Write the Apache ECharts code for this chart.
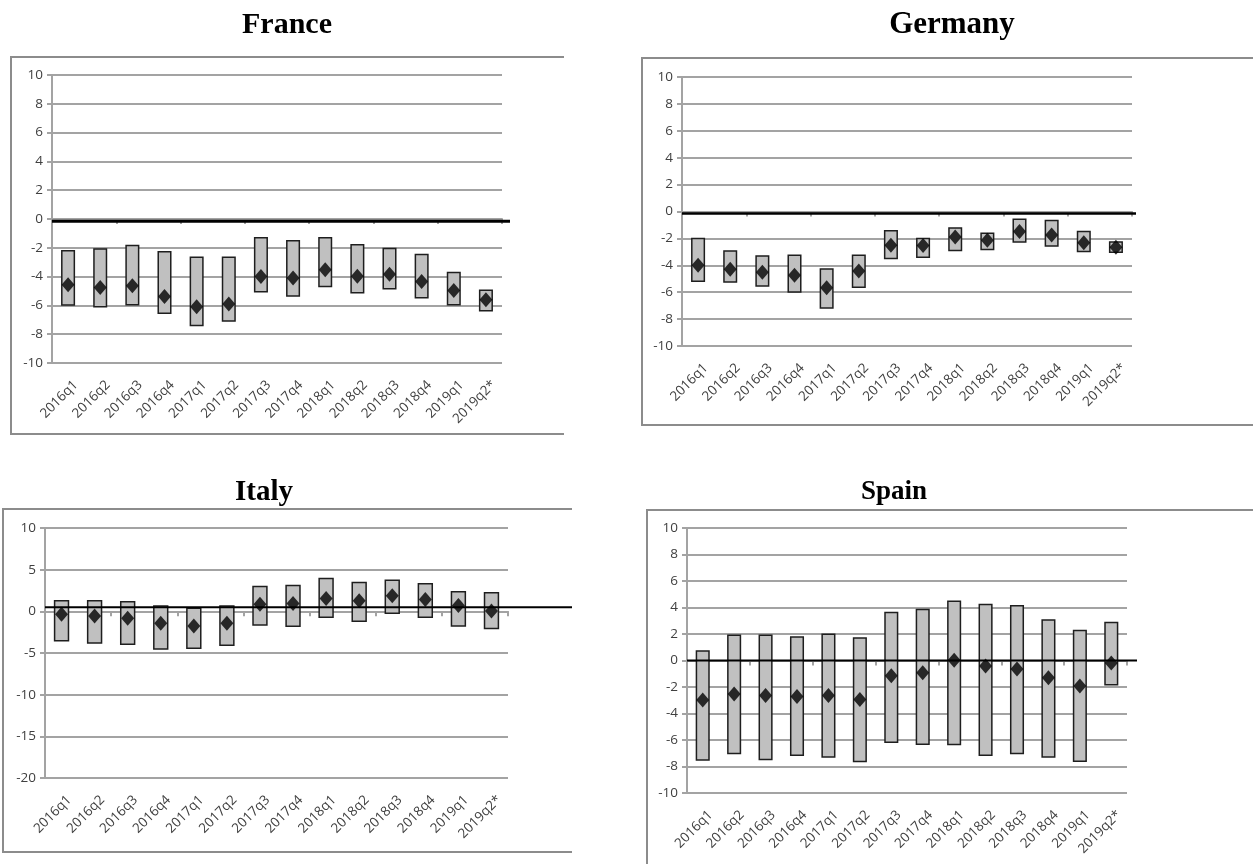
<!DOCTYPE html>
<html>
<head>
<meta charset="utf-8">
<script src="https://cdn.jsdelivr.net/npm/echarts@6/dist/echarts.min.js"></script>
<style>
  html, body { margin: 0; padding: 0; background: #ffffff; }
  #chart { width: 1253px; height: 864px; }
</style>
</head>
<body>
<div id="chart"></div>
<script>
// Quarters shown on every panel
const quarters = ['2016q1', '2016q2', '2016q3', '2016q4', '2017q1', '2017q2', '2017q3',
                  '2017q4', '2018q1', '2018q2', '2018q3', '2018q4', '2019q1', '2019q2*'];

// France: range (low / high) and point estimate
const franceLow  = [-5.98, -6.09, -5.95, -6.55, -7.39, -7.09, -5.05, -5.35, -4.68, -5.12, -4.84, -5.47, -5.95, -6.37];
const franceHigh = [-2.21, -2.09, -1.84, -2.28, -2.65, -2.65, -1.31, -1.51, -1.31, -1.79, -2.05, -2.46, -3.71, -4.94];
const franceMid  = [-4.57, -4.75, -4.64, -5.38, -6.09, -5.91, -3.99, -4.10, -3.53, -3.97, -3.83, -4.34, -4.96, -5.61];

// Germany
const germanyLow  = [-5.19, -5.24, -5.53, -5.98, -7.17, -5.63, -3.50, -3.40, -2.90, -2.83, -2.26, -2.56, -2.98, -3.03];
const germanyHigh = [-2.01, -2.93, -3.30, -3.25, -4.27, -3.25, -1.44, -2.01, -1.22, -1.61, -0.57, -0.67, -1.49, -2.26];
const germanyMid  = [-4.00, -4.29, -4.52, -4.74, -5.66, -4.42, -2.51, -2.53, -1.89, -2.13, -1.49, -1.74, -2.33, -2.66];

// Italy
const italyLow  = [-3.52, -3.80, -3.96, -4.52, -4.44, -4.08, -1.63, -1.79, -0.71, -1.19, -0.23, -0.71, -1.75, -2.07];
const italyHigh = [1.26, 1.26, 1.14, 0.65, 0.37, 0.65, 2.98, 3.10, 3.94, 3.46, 3.74, 3.30, 2.34, 2.22];
const italyMid  = [-0.35, -0.55, -0.83, -1.43, -1.75, -1.43, 0.86, 0.94, 1.54, 1.26, 1.86, 1.42, 0.69, 0.05];

// Spain
const spainLow  = [-7.50, -7.02, -7.48, -7.15, -7.28, -7.63, -6.17, -6.32, -6.34, -7.15, -7.02, -7.28, -7.60, -1.83];
const spainHigh = [0.72, 1.90, 1.90, 1.78, 1.98, 1.70, 3.62, 3.85, 4.48, 4.22, 4.14, 3.06, 2.26, 2.86];
const spainMid  = [-2.99, -2.53, -2.64, -2.71, -2.64, -2.94, -1.15, -0.92, 0.01, -0.42, -0.64, -1.30, -1.93, -0.19];

// Level of the black reference line in each panel
const franceRefLine = -0.15;
const germanyRefLine = -0.15;
const italyRefLine = 0.5;
const spainRefLine = 0;

// Y axis ranges
const yRangeStd = { min: -10, max: 10, interval: 2 };
const yRangeItaly = { min: -20, max: 10, interval: 5 };

const panels = [
  { name: 'France',  low: franceLow,  high: franceHigh,  mid: franceMid,  ref: franceRefLine,  y: yRangeStd,
    grid: { left: 52, top: 75, width: 450, height: 288 }, lineRight: 510, barRatio: 0.39,
    title: { x: 287, y: 25, size: 30 },
    border: [[564, 57], [11, 57], [11, 434], [564, 434]], refWidth: 3 },
  { name: 'Germany', low: germanyLow, high: germanyHigh, mid: germanyMid, ref: germanyRefLine, y: yRangeStd,
    grid: { left: 682, top: 77, width: 450, height: 269 }, lineRight: 1136, barRatio: 0.39,
    title: { x: 952, y: 25, size: 31 },
    border: [[1253, 58], [642, 58], [642, 425], [1253, 425]], refWidth: 2.5 },
  { name: 'Italy',   low: italyLow,   high: italyHigh,   mid: italyMid,   ref: italyRefLine,   y: yRangeItaly,
    grid: { left: 45, top: 528, width: 463, height: 250 }, lineRight: 572, barRatio: 0.42,
    title: { x: 264, y: 493, size: 29 },
    border: [[572, 509], [3, 509], [3, 852], [572, 852]], refWidth: 2 },
  { name: 'Spain',   low: spainLow,   high: spainHigh,   mid: spainMid,   ref: spainRefLine,   y: yRangeStd,
    grid: { left: 687, top: 528, width: 440, height: 265 }, lineRight: 1137, barRatio: 0.4,
    title: { x: 894, y: 492, size: 27 },
    border: [[1253, 510], [647, 510], [647, 864]], refWidth: 2 }
];

const labelFont = '"Open Sans", "Noto Sans", sans-serif';
const labelColor = '#404040';
const gridColor = '#a3a3a3';

const option = {
  animation: false,
  backgroundColor: '#ffffff',
  grid: [], xAxis: [], yAxis: [], series: [], graphic: []
};

panels.forEach(function (p) {
  const gMain = option.grid.length;
  option.grid.push({ left: p.grid.left, top: p.grid.top, width: p.grid.width, height: p.grid.height });
  // wider grid carrying the reference line past the plot's right edge
  const gLine = option.grid.length;
  option.grid.push({ left: p.grid.left, top: p.grid.top, width: p.lineRight - p.grid.left, height: p.grid.height });

  // category axis with labels along the bottom; the leading blank line nudges
  // each slanted label down and to the right of its category centre
  option.xAxis.push({
    type: 'category', gridIndex: gMain, data: quarters, position: 'bottom',
    axisLine: { show: false, onZero: false },
    axisTick: { show: false },
    axisLabel: {
      rotate: 45, margin: 12, color: labelColor, fontFamily: labelFont, fontSize: 13.5,
      lineHeight: 22, interval: 0,
      formatter: function (v) { return '\n' + v; }
    },
    splitLine: { show: false }
  });
  // category axis sitting on zero: tick marks only
  const xZero = option.xAxis.length;
  option.xAxis.push({
    type: 'category', gridIndex: gMain, data: quarters, position: 'bottom',
    axisLine: { show: true, onZero: true, lineStyle: { color: gridColor, width: 2 } },
    axisTick: { show: true, length: 5, lineStyle: { color: gridColor, width: 2 } },
    axisLabel: { show: false },
    splitLine: { show: false }
  });
  const xLine = option.xAxis.length;
  option.xAxis.push({ type: 'value', gridIndex: gLine, min: 0, max: 1, show: false });

  const yMain = option.yAxis.length;
  option.yAxis.push({
    type: 'value', gridIndex: gMain, min: p.y.min, max: p.y.max, interval: p.y.interval,
    axisLine: { show: true, lineStyle: { color: gridColor, width: 2 } },
    axisTick: { show: true, length: 5, lineStyle: { color: gridColor, width: 2 } },
    axisLabel: { margin: 9, color: labelColor, fontFamily: labelFont, fontSize: 13.5 },
    splitLine: { show: true, lineStyle: { color: gridColor, width: 2 } }
  });
  const yLine = option.yAxis.length;
  option.yAxis.push({ type: 'value', gridIndex: gLine, min: p.y.min, max: p.y.max, show: false });

  const ratio = p.barRatio;
  option.series.push({
    type: 'custom', name: p.name + ' range', xAxisIndex: xZero, yAxisIndex: yMain, z: 2,
    encode: { x: 0, y: [1, 2] },
    data: quarters.map(function (q, i) { return [i, p.low[i], p.high[i]]; }),
    renderItem: function (params, api) {
      const lo = api.coord([api.value(0), api.value(1)]);
      const hi = api.coord([api.value(0), api.value(2)]);
      const w = api.size([1, 0])[0] * ratio;
      return {
        type: 'rect',
        shape: { x: lo[0] - w / 2, y: hi[1], width: w, height: lo[1] - hi[1] },
        style: { fill: '#c0c0c0', stroke: '#1e1e1e', lineWidth: 1.5 }
      };
    }
  });
  option.series.push({
    type: 'line', name: p.name + ' reference', xAxisIndex: xLine, yAxisIndex: yLine, z: 3,
    data: [[0, p.ref], [1, p.ref]], symbol: 'none', silent: true,
    lineStyle: { color: '#000000', width: p.refWidth }
  });
  option.series.push({
    type: 'scatter', name: p.name + ' estimate', xAxisIndex: xZero, yAxisIndex: yMain, z: 4,
    data: p.mid, symbol: 'diamond', symbolSize: [13, 15],
    itemStyle: { color: '#000000' }
  });

  option.graphic.push({
    type: 'polyline', silent: true, z: 0,
    shape: { points: p.border },
    style: { stroke: '#8c8c8c', lineWidth: 2, fill: null }
  });
  option.graphic.push({
    type: 'text', silent: true, z: 10,
    x: p.title.x, y: p.title.y,
    style: {
      text: p.name, fill: '#000000', align: 'center', verticalAlign: 'middle',
      font: 'bold ' + p.title.size + 'px "Liberation Serif", "Times New Roman", serif'
    }
  });
});

const chart = echarts.init(document.getElementById('chart'), null, { renderer: 'canvas' });
chart.setOption(option);
</script>
</body>
</html>
